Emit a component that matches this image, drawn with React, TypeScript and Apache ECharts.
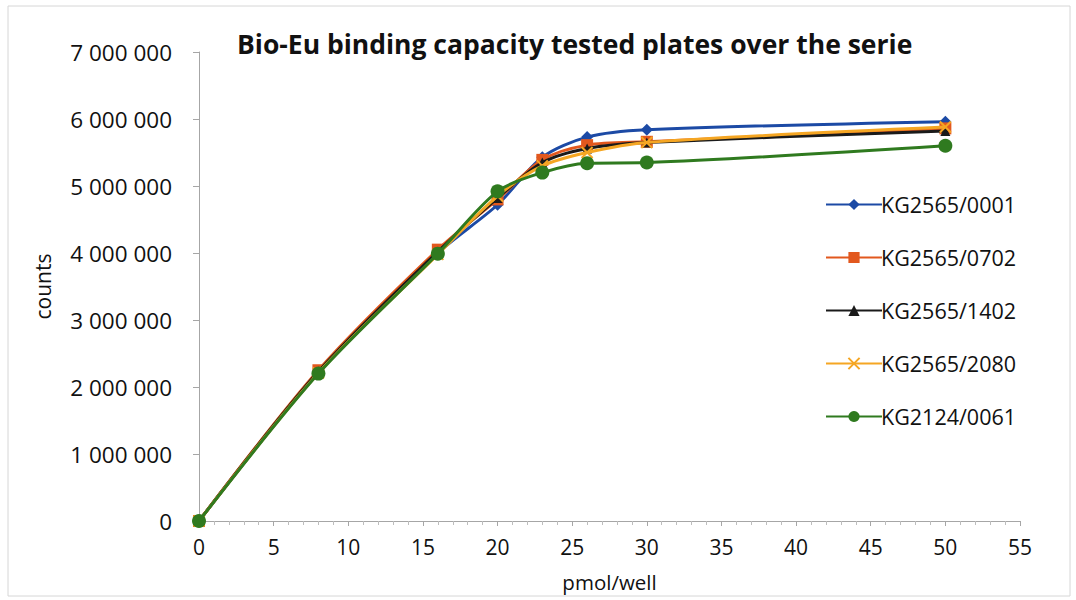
import React, { useEffect, useRef } from "react";
import * as echarts from "echarts";

const xValues = [0, 8, 16, 20, 23, 26, 30, 50];
const seriesNames = ["KG2565/0001", "KG2565/0702", "KG2565/1402", "KG2565/2080", "KG2124/0061"];
const s0001 = [0, 2220000, 4000000, 4720000, 5430000, 5730000, 5840000, 5960000];
const s0702 = [0, 2250000, 4050000, 4800000, 5390000, 5610000, 5660000, 5860000];
const s1402 = [0, 2230000, 4020000, 4820000, 5350000, 5560000, 5650000, 5820000];
const s2080 = [0, 2210000, 3980000, 4850000, 5300000, 5500000, 5650000, 5880000];
const s0061 = [0, 2200000, 3990000, 4920000, 5200000, 5340000, 5350000, 5600000];
const allSeries = [s0001, s0702, s1402, s2080, s0061];

const colors = ["#1C4AA5", "#E2581E", "#1A1A1A", "#F5A623", "#2F7A1F"];
const symbols = [
  "diamond",
  "rect",
  "triangle",
  "path://M0 0L10 10M10 0L0 10",
  "circle",
];
const symbolSizes = [12, 12, 10, 11, 14];

const FONT = "'Open Sans', Lato, sans-serif";

export default function App() {
  const ref = useRef<HTMLDivElement>(null);
  useEffect(() => {
    if (!ref.current) return;
    const chart = echarts.init(ref.current, undefined, { renderer: "svg" });
    const fmt = (v: number) => String(v).replace(/\B(?=(\d{3})+(?!\d))/g, " ");
    chart.setOption({
      animation: false,
      backgroundColor: "#ffffff",
      textStyle: { fontFamily: FONT },
      title: {
        text: "Bio-Eu binding capacity tested plates over the serie",
        left: 232,
        top: 25,
        textStyle: { fontFamily: FONT, fontSize: 26.5, fontWeight: "bold", color: "#111" },
      },
      graphic: [
        {
          type: "rect",
          shape: { x: 8, y: 6, width: 1062, height: 590 },
          style: { fill: "none", stroke: "#d6d6d6", lineWidth: 1 },
          silent: true,
        },
      ],
      legend: {
        orient: "vertical",
        left: 820,
        top: 188,
        itemWidth: 56,
        itemHeight: 14,
        itemGap: 30,
        data: seriesNames,
        textStyle: { fontFamily: FONT, fontSize: 21.5, color: "#111", lineHeight: 23, padding: [0, 0, 0, -6] },
      },
      grid: { left: 199, right: 56, top: 52, bottom: 79, containLabel: false },
      xAxis: {
        type: "value",
        min: 0,
        max: 55,
        interval: 5,
        name: "pmol/well",
        nameLocation: "middle",
        nameGap: 50,
        nameTextStyle: { fontFamily: FONT, fontSize: 20.5, color: "#111" },
        axisLine: { show: true, lineStyle: { color: "#a6a6a6", width: 1 } },
        axisTick: { show: true, length: 5, lineStyle: { color: "#a6a6a6" } },
        minorTick: { show: true, splitNumber: 5, length: 4, lineStyle: { color: "#bdbdbd" } },
        axisLabel: { fontFamily: FONT, fontSize: 21, color: "#111", margin: 15 },
        splitLine: { show: false },
      },
      yAxis: {
        type: "value",
        min: 0,
        max: 7000000,
        interval: 1000000,
        name: "counts",
        nameLocation: "middle",
        nameGap: 146,
        nameRotate: 90,
        nameTextStyle: { fontFamily: FONT, fontSize: 21, color: "#111" },
        axisLine: { show: true, lineStyle: { color: "#a6a6a6", width: 1 } },
        axisTick: { show: true, length: 6, lineStyle: { color: "#a6a6a6" } },
        axisLabel: { fontFamily: FONT, fontSize: 22.5, color: "#111", margin: 27, formatter: fmt },
        splitLine: { show: false },
      },
      series: seriesNames.map((name, i) => ({
        name,
        type: "line",
        data: xValues.map((x, j) => [x, allSeries[i][j]]),
        smooth: 0.3,
        symbol: symbols[i],
        symbolSize: symbolSizes[i],
        showSymbol: true,
        lineStyle: { color: colors[i], width: 3 },
        itemStyle: {
          color: colors[i],
          borderColor: colors[i],
          borderWidth: i === 3 ? 2 : 0,
        },
        z: 2 + i,
      })),
    });
    return () => chart.dispose();
  }, []);
  return (
    <div
      ref={ref}
      style={{ position: "absolute", left: 0, top: 0, width: 1076, height: 600 }}
    />
  );
}
